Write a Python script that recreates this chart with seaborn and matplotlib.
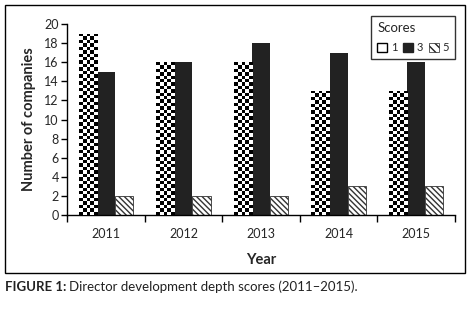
import numpy as np
import pandas as pd
import matplotlib
matplotlib.use("Agg")
import matplotlib.pyplot as plt
import seaborn as sns
from matplotlib.patches import Rectangle

years = ["2011", "2012", "2013", "2014", "2015"]
scores = ["1", "3", "5"]
score1 = [19, 16, 16, 13, 13]
score3 = [15, 16, 18, 17, 16]
score5 = [2, 2, 2, 3, 3]

df = pd.DataFrame({
    "Year": years * 3,
    "Scores": [s for s in scores for _ in years],
    "Count": score1 + score3 + score5,
})

sns.set_style("white")
plt.rcParams["font.family"] = ["Lato", "DejaVu Sans"]
plt.rcParams["hatch.linewidth"] = 1.0
plt.rcParams["hatch.color"] = "#222222"

fig = plt.figure(figsize=(4.72, 3.13), dpi=100)
ax = fig.add_axes([0.142, 0.313, 0.822, 0.61])

palette = {"1": "white", "3": "#222222", "5": "white"}
sns.barplot(data=df, x="Year", y="Count", hue="Scores", palette=palette,
            width=0.7, gap=0, edgecolor="none", linewidth=0, ax=ax, legend=False)

c1, c3, c5 = ax.containers
for p in c5:
    p.set_hatch("\\\\\\\\\\\\")
    p.set_edgecolor("#333333")
    p.set_linewidth(0.6)

ax.set_ylim(0, 20)
ax.set_xlim(-0.5, 4.5)
fig.canvas.draw()

# checkerboard fill for score 1, clipped to each bar
px_per_y = ax.transData.transform((0, 1))[1] - ax.transData.transform((0, 0))[1]
px_per_x = ax.transData.transform((1, 0))[0] - ax.transData.transform((0, 0))[0]
sq = 3.4
for p in c1:
    x0, w, h = p.get_x(), p.get_width(), p.get_height()
    ncol = max(1, int(round(w * px_per_x / sq)))
    nrow = max(1, int(round(h * px_per_y / sq)))
    board = (np.add.outer(np.arange(nrow), np.arange(ncol)) % 2).astype(float)
    im = ax.imshow(board, cmap="gray", vmin=0, vmax=1, extent=(x0, x0 + w, 0, h),
                   origin="lower", interpolation="nearest", aspect="auto", zorder=3)
    im.set_clip_path(p)
ax.set_xlim(-0.5, 4.5)
ax.set_ylim(0, 20)

ax.set_yticks(range(0, 21, 2))
ax.set_xticks(np.arange(-0.5, 5, 1), minor=True)
ax.tick_params(axis="x", which="major", length=0, labelsize=9, pad=9)
ax.tick_params(axis="x", which="minor", length=5, width=1, color="black", direction="out", bottom=True)
ax.tick_params(axis="y", length=4, width=1, color="black", direction="out", left=True, labelsize=9, pad=2)
for s in ["top", "right"]:
    ax.spines[s].set_visible(False)
for s in ["left", "bottom"]:
    ax.spines[s].set_color("black")
    ax.spines[s].set_linewidth(1)
ax.set_xlabel("Year", fontsize=10.5, fontweight="bold", labelpad=10)
ax.set_ylabel("Number of companies", fontsize=10.5, fontweight="bold", labelpad=6)

# legend
handles = [
    Rectangle((0, 0), 1, 1, facecolor="white", edgecolor="black", linewidth=1),
    Rectangle((0, 0), 1, 1, facecolor="#222222", edgecolor="#222222"),
    Rectangle((0, 0), 1, 1, facecolor="white", edgecolor="#222222", hatch="\\\\\\\\", linewidth=0.5),
]
leg = fig.legend(handles, scores, title="Scores", ncol=3, loc="upper right",
                 bbox_to_anchor=(461 / 472, 1 - 10 / 313), fontsize=8, title_fontsize=9.5,
                 handlelength=0.9, handleheight=0.9, handletextpad=0.35, columnspacing=0.5,
                 frameon=True, fancybox=False, borderpad=0.55, labelspacing=0.6)
leg.get_frame().set_edgecolor("black")
leg.get_frame().set_linewidth(1)
leg._legend_box.align = "left"
leg._legend_box.sep = 6

# outer frame
fig.patches.append(Rectangle((5 / 472, 1 - 273 / 313), 460 / 472, 268 / 313,
                             transform=fig.transFigure, fill=False, edgecolor="black", linewidth=1))

t1 = fig.text(5 / 472, 1 - 291 / 313, "FIGURE 1:", fontsize=9.5, fontweight="bold", color="#222222")
fig.canvas.draw()
bb = t1.get_window_extent()
fig.text((bb.x1 + 3) / 472, 1 - 291 / 313, "Director development depth scores (2011\u20132015).",
         fontsize=9.5, color="#222222")

fig.savefig("out.png", dpi=100)
